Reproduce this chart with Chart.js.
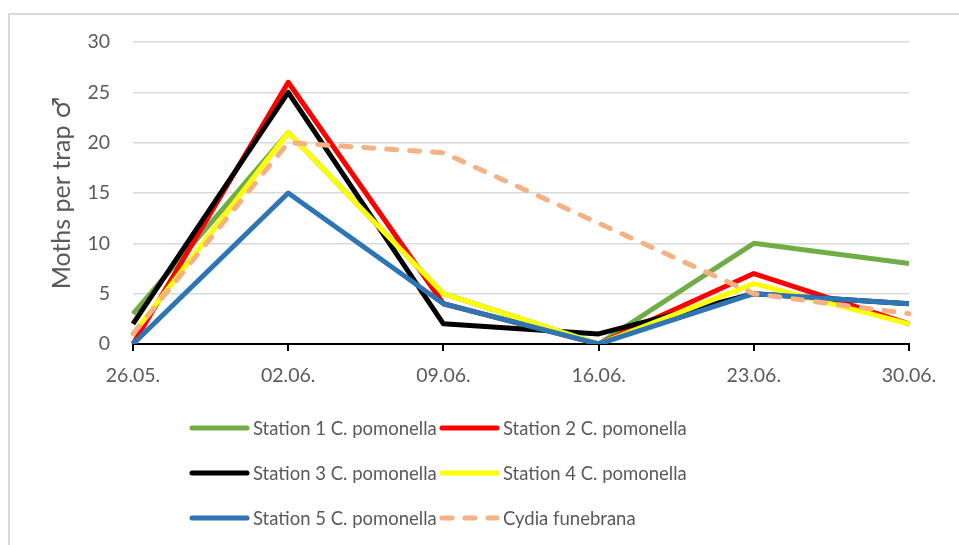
<!DOCTYPE html>
<html>
<head>
<meta charset="utf-8">
<script src="https://cdn.jsdelivr.net/npm/chart.js@4/dist/chart.umd.min.js"></script>
<style>
  html, body { margin: 0; padding: 0; background: #ffffff; }
  #wrap { position: relative; width: 959px; height: 545px; overflow: hidden; }
  #frame { position: absolute; left: 8px; top: 13px; width: 1000px; height: 600px;
           border-top: 2px solid #d9d9d9; border-left: 2px solid #d9d9d9; box-sizing: border-box; }
  canvas { position: absolute; left: 0; top: 0; }
</style>
</head>
<body>
<div id="wrap">
  <div id="frame"></div>
  <canvas id="c" width="959" height="545"></canvas>
</div>
<script>
const categories = ["26.05.", "02.06.", "09.06.", "16.06.", "23.06.", "30.06."];
const seriesNames = ["Station 1 C. pomonella", "Station 2 C. pomonella", "Station 3 C. pomonella",
                     "Station 4 C. pomonella", "Station 5 C. pomonella", "Cydia funebrana"];
const station1 = [3, 21, 5, 0, 10, 8];
const station2 = [0, 26, 4, 0, 7, 2];
const station3 = [2, 25, 2, 1, 5, 4];
const station4 = [1, 21, 5, 0, 6, 2];
const station5 = [0, 15, 4, 0, 5, 4];
const cydia    = [1, 20, 19, 12, 5, 3];
const yTicks = [0, 5, 10, 15, 20, 25, 30];

const colors = ["#70AD47", "#FF0000", "#000000", "#FFFF00", "#2E75B6", "#F4B183"];
const allSeries = [station1, station2, station3, station4, station5, cydia];
const FONT = "Lato, 'Open Sans', sans-serif";
const TFONT = "Lato, 'DejaVu Sans', sans-serif";
const TXT = "#595959";

const datasets = allSeries.map((d, i) => ({
  label: seriesNames[i],
  data: d,
  borderColor: colors[i],
  backgroundColor: colors[i],
  borderWidth: 5,
  pointRadius: 0,
  tension: 0,
  fill: false,
  borderCapStyle: i === 5 ? 'round' : 'butt',
  borderJoinStyle: 'round',
  borderDash: i === 5 ? [10, 13] : [],
  order: allSeries.length - 1 - i
}));

const legendPlugin = {
  id: 'customLegend',
  afterDraw(chart) {
    const ctx = chart.ctx;
    const colX = [190, 440];
    const rowY = [428, 473, 518];
    ctx.save();
    ctx.font = "18.5px " + FONT;
    ctx.textBaseline = 'middle';
    ctx.textAlign = 'left';
    chart.data.datasets.forEach((ds, i) => {
      const x = colX[i % 2];
      const y = rowY[Math.floor(i / 2)];
      ctx.beginPath();
      ctx.strokeStyle = ds.borderColor;
      ctx.lineWidth = 5;
      ctx.lineCap = 'round';
      ctx.setLineDash(ds.borderDash && ds.borderDash.length ? ds.borderDash : []);
      ctx.moveTo(x + 2, y);
      ctx.lineTo(x + 57, y);
      ctx.stroke();
      ctx.setLineDash([]);
      ctx.fillStyle = TXT;
      ctx.fillText(ds.label, x + 63, y + 1);
    });
    ctx.restore();
  }
};

new Chart(document.getElementById('c'), {
  type: 'line',
  data: { labels: categories, datasets: datasets },
  plugins: [legendPlugin],
  options: {
    responsive: false,
    animation: false,
    layout: { padding: { top: 42, right: 50, bottom: 0, left: 0 } },
    plugins: { legend: { display: false }, tooltip: { enabled: false } },
    scales: {
      x: {
        offset: false,
        grid: { drawOnChartArea: false, drawTicks: true, tickLength: 7, tickColor: '#000000', lineWidth: 2 },
        border: { display: true, color: '#000000', width: 2 },
        ticks: { color: TXT, font: { family: FONT, size: 19.5 }, padding: 13, maxRotation: 0, autoSkip: false },
        afterFit(s) { s.height = 545 - 344; }
      },
      y: {
        min: 0, max: 30,
        afterBuildTicks(s) { s.ticks = yTicks.map(v => ({ value: v })); },
        grid: { color: '#d9d9d9', lineWidth: 1.5, drawTicks: false },
        border: { display: false },
        ticks: { color: TXT, font: { family: FONT, size: 19.5 }, padding: 23 },
        title: { display: true, text: 'Moths per trap ♂', color: TXT,
                 font: { family: TFONT, size: 25 }, padding: { top: 47, bottom: 0 } },
        afterFit(s) { s.width = 133; }
      }
    }
  }
});
</script>
</body>
</html>
